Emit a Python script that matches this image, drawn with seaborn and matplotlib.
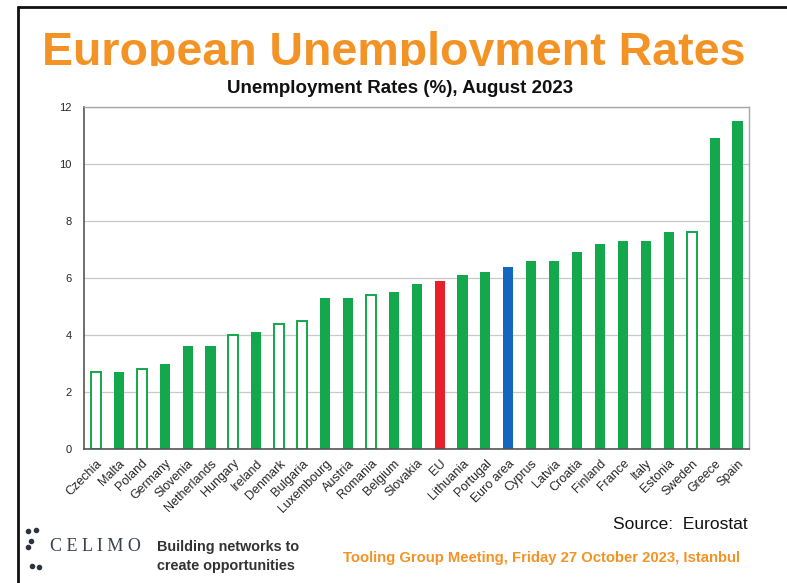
import matplotlib
matplotlib.use("Agg")
import matplotlib.pyplot as plt
from matplotlib.lines import Line2D
from matplotlib.transforms import Bbox
import seaborn as sns
import pandas as pd

countries = ["Czechia", "Malta", "Poland", "Germany", "Slovenia", "Netherlands",
             "Hungary", "Ireland", "Denmark", "Bulgaria", "Luxembourg", "Austria",
             "Romania", "Belgium", "Slovakia", "EU", "Lithuania", "Portugal",
             "Euro area", "Cyprus", "Latvia", "Croatia", "Finland", "France",
             "Italy", "Estonia", "Sweden", "Greece", "Spain"]
rates = [2.7, 2.7, 2.8, 3.0, 3.6, 3.6, 4.0, 4.1, 4.4, 4.5, 5.3, 5.3, 5.4, 5.5,
         5.8, 5.9, 6.1, 6.2, 6.4, 6.6, 6.6, 6.9, 7.2, 7.3, 7.3, 7.6, 7.6, 10.9, 11.5]
# countries outside the euro area are drawn as outlined bars
non_euro = ["Czechia", "Poland", "Hungary", "Denmark", "Bulgaria", "Romania", "Sweden"]
yticks = [0, 2, 4, 6, 8, 10, 12]

GREEN = "#13A84B"
RED = "#E8202A"
BLUE = "#1467BE"
ORANGE = "#F39325"

df = pd.DataFrame({"country": countries, "rate": rates})
palette = {c: GREEN for c in countries}
palette["EU"] = RED
palette["Euro area"] = BLUE

sns.set_style("white")
plt.rcParams["font.family"] = ["Liberation Sans", "DejaVu Sans"]

fig = plt.figure(figsize=(7.87, 5.83), dpi=100)
ax = fig.add_axes([0.1067, 0.2298, 0.845, 0.5866])

sns.barplot(data=df, x="country", y="rate", hue="country", order=countries,
            hue_order=countries, palette=palette, width=0.44, legend=False,
            saturation=1, ax=ax)

for patch, c in zip(ax.patches, countries):
    if c in non_euro:
        patch.set_facecolor("white")
        patch.set_edgecolor(GREEN)
        patch.set_linewidth(1.4)
    else:
        patch.set_edgecolor("none")

ax.set_ylim(0, 12)
ax.set_xlim(-0.52, 28.5)
ax.set_yticks(yticks)
ax.set_yticklabels([str(t) for t in yticks], fontsize=8)
ax.yaxis.grid(True, color="#C9C9C9", linewidth=0.9)
ax.set_axisbelow(True)
ax.set_xlabel("")
ax.set_ylabel("")
ax.tick_params(axis="y", length=0, pad=9)
ax.tick_params(axis="x", length=0, pad=6)
ax.set_xticks(range(len(countries)))
ax.set_xticklabels(countries, rotation=45, ha="right", rotation_mode="anchor",
                   fontsize=9)
for side in ["top", "right"]:
    ax.spines[side].set_color("#A8A8A8")
    ax.spines[side].set_linewidth(1.0)
for side in ["left", "bottom"]:
    ax.spines[side].set_color("#555555")
    ax.spines[side].set_linewidth(1.2)

# page frame
fig.add_artist(Line2D([0.0229, 1.0], [0.988, 0.988], color="#111111", linewidth=2))
fig.add_artist(Line2D([0.0229, 0.0229], [0.0, 0.988], color="#111111", linewidth=2))

# headline, with the lower part of the letters cut by the banner edge
title = fig.text(0.5, 1 - 65 / 583, "European Unemployment Rates", ha="center",
                 va="baseline", fontsize=33.5, fontweight="bold", color=ORANGE)
title.set_clip_on(True)
title.set_clip_box(Bbox.from_extents(0, 583 - 66, 787, 583))

fig.text(0.5085, 0.848, "Unemployment Rates (%), August 2023", ha="center",
         va="center", fontsize=13.5, fontweight="bold", color="#111111")

fig.text(0.950, 0.100, "Source:  Eurostat", ha="right", va="center",
         fontsize=12.5, color="#111111")

# organisation mark
for (mx, my) in [(0.036, 0.089), (0.046, 0.091), (0.040, 0.072), (0.036, 0.061),
                 (0.041, 0.030), (0.050, 0.028)]:
    fig.add_artist(Line2D([mx], [my], marker="o", markersize=3.0,
                          color="#2C3440", linestyle="none"))
fig.text(0.063, 0.062, "C E L I M O", ha="left", va="center", fontsize=13,
         family="Liberation Serif", color="#3A4150")
fig.text(0.199, 0.062, "Building networks to", ha="left", va="center",
         fontsize=10.4, fontweight="bold", color="#333333")
fig.text(0.199, 0.030, "create opportunities", ha="left", va="center",
         fontsize=10.4, fontweight="bold", color="#333333")

fig.text(0.940, 0.043, "Tooling Group Meeting, Friday 27 October 2023, Istanbul",
         ha="right", va="center", fontsize=10.7, fontweight="bold", color=ORANGE)

fig.savefig("out.png", dpi=100)
